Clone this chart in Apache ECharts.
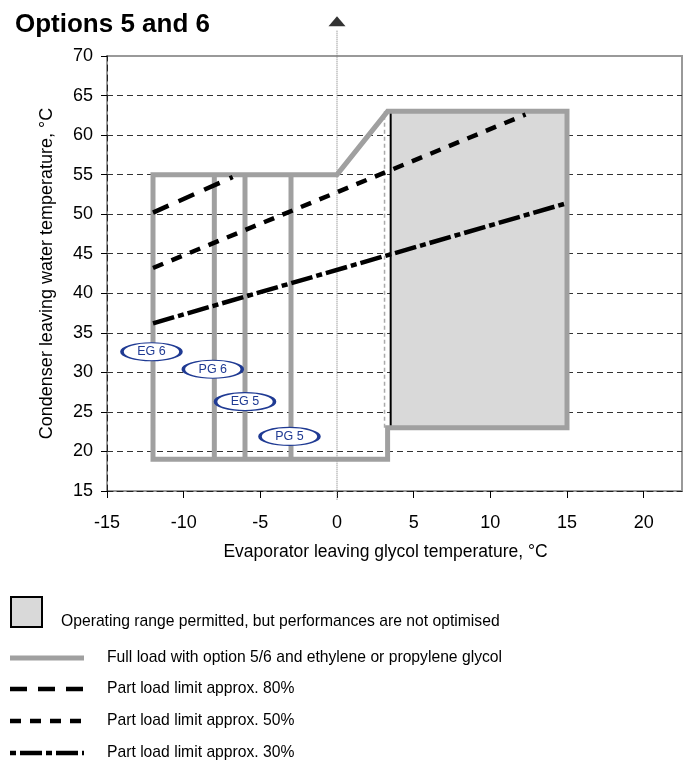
<!DOCTYPE html>
<html>
<head>
<meta charset="utf-8">
<script src="https://cdn.jsdelivr.net/npm/echarts@6/dist/echarts.min.js"></script>
<style>
  * { margin: 0; padding: 0; }
  body { background: #fff; }
  #chart { width: 699px; height: 762px; }
</style>
</head>
<body>
<div id="chart"></div>
<script>
// x ticks / axis
const xTicks = [-15, -10, -5, 0, 5, 10, 15, 20];

// full load envelope (option 5/6 with glycol)
const fullLoadOutline = [[-12, 19], [-12, 55], [0, 55], [3.3, 63], [15, 63], [15, 23], [3.3, 23], [3.3, 19], [-12, 19]];
const glycolLimitsX = [-8, -6, -3];
const glycolLimitsY = [19, 55];

// zone where operation is permitted but not optimised
const shadedZone = [[3.5, 23], [3.5, 63], [15, 63], [15, 23]];
const shadedEdge = [[3.5, 23], [3.5, 63]];
const stepGuide = [[3.1, 23], [3.1, 63]];

// part load limits
const limit80 = [[-12, 50.2], [-6.8, 54.7]];
const limit50 = [[-12, 43.2], [12.3, 62.6]];
const limit30 = [[-12, 36.2], [15, 51.4]];

// dotted zero line with arrow
const zeroLine = [[0, 13.9], [0, 73.2]];
const zeroArrow = [[0, 74.4]];

const tagNames = ["EG 6", "PG 6", "EG 5", "PG 5"];
const tagPos = [[-12.1, 32.6], [-8.1, 30.4], [-6, 26.3], [-3.1, 21.9]];

const legendLabels = [
  "Operating range permitted, but performances are not optimised",
  "Full load with option 5/6 and ethylene or propylene glycol",
  "Part load limit approx. 80%",
  "Part load limit approx. 50%",
  "Part load limit approx. 30%"
];

const GREY = "#a0a0a0";
const SHADE = "#d9d9d9";
const BLUE = "#1f3a93";
const FONT = "Liberation Sans, Arial, sans-serif";

const dash80 = [17, 11];
const dash50 = [11, 9];
const dash30 = [22, 4, 6, 4];

// outline plus vertical glycol limits, separated by gaps
const fullLoadData = fullLoadOutline.slice();
glycolLimitsX.forEach(function (x) {
  fullLoadData.push("-");
  fullLoadData.push([x, glycolLimitsY[0]]);
  fullLoadData.push([x, glycolLimitsY[1]]);
});

const ellipse = "path://M0,9 A29,9 0 1,1 58,9 A29,9 0 1,1 0,9 Z";

const chart = echarts.init(document.getElementById("chart"), null, { renderer: "canvas" });

function legendLine(y, dash, color, width, offset) {
  return {
    type: "line",
    shape: { x1: 10, y1: y, x2: 84, y2: y },
    style: { stroke: color, lineWidth: width, lineDash: dash, lineDashOffset: offset || 0 }
  };
}
function legendText(x, y, text) {
  return {
    type: "text",
    x: x, y: y,
    style: { text: text, fill: "#000", font: "15.7px " + FONT, textVerticalAlign: "middle" }
  };
}

const option = {
  animation: false,
  backgroundColor: "#fff",
  textStyle: { fontFamily: FONT },
  title: {
    text: "Options 5 and 6",
    left: 10,
    top: 7,
    textStyle: { fontSize: 26, fontWeight: "bold", color: "#000", fontFamily: FONT }
  },
  grid: {
    left: 107, right: 17, top: 56, bottom: 271,
    show: true, borderColor: "#999", borderWidth: 2
  },
  xAxis: {
    type: "value",
    min: -15, max: 22.5, interval: 5,
    name: "Evaporator leaving glycol temperature, °C",
    nameLocation: "middle",
    nameGap: 52,
    nameTextStyle: { fontSize: 17.5, color: "#000", padding: [0, 18, 0, 0] },
    axisLine: { show: true, onZero: false, lineStyle: { color: "#222", type: [6, 4], width: 1 } },
    axisTick: { show: true, length: 7, lineStyle: { color: "#000" }, customValues: xTicks },
    axisLabel: { fontSize: 18, color: "#000", margin: 23, customValues: xTicks },
    splitLine: { show: false }
  },
  yAxis: {
    type: "value",
    min: 15, max: 70, interval: 5,
    name: "Condenser leaving water temperature, °C",
    nameLocation: "middle",
    nameGap: 51,
    nameTextStyle: { fontSize: 18, color: "#000" },
    axisLine: { show: true, onZero: false, lineStyle: { color: "#222", type: [6, 4], width: 1 } },
    axisTick: { show: true, length: 6, lineStyle: { color: "#000" } },
    axisLabel: { fontSize: 18, color: "#000", margin: 14 },
    splitLine: { show: true, showMaxLine: false, lineStyle: { color: "#333", type: [6, 4], width: 1 } }
  },
  series: [
    {
      name: "zero",
      type: "line",
      data: zeroLine,
      clip: false,
      symbol: "none",
      silent: true,
      lineStyle: { color: "#777", width: 1, type: [1, 1] },
      z: 1
    },
    {
      name: "arrow",
      type: "scatter",
      data: zeroArrow,
      clip: false,
      symbol: "triangle",
      symbolSize: [17, 10],
      itemStyle: { color: "#000" },
      silent: true
    },
    {
      name: "shade",
      type: "custom",
      data: shadedZone,
      renderItem: function (params, api) {
        if (params.dataIndex !== 0) return;
        const pts = shadedZone.map(function (p) { return api.coord(p); });
        return { type: "polygon", shape: { points: pts }, style: { fill: SHADE } };
      },
      z: 2
    },
    {
      name: "step guide",
      type: "line",
      data: stepGuide,
      symbol: "none",
      lineStyle: { color: "#aaa", width: 1.5, type: [4, 3] },
      z: 3
    },
    {
      name: "shade edge",
      type: "line",
      data: shadedEdge,
      symbol: "none",
      lineStyle: { color: "#000", width: 2 },
      z: 3
    },
    {
      name: "Full load",
      type: "line",
      data: fullLoadData,
      connectNulls: false,
      symbol: "none",
      lineStyle: { color: GREY, width: 5, join: "miter", cap: "square" },
      z: 4
    },
    {
      name: "80%",
      type: "line",
      data: limit80,
      symbol: "none",
      lineStyle: { color: "#000", width: 4.5, type: dash80 },
      z: 5
    },
    {
      name: "50%",
      type: "line",
      data: limit50,
      symbol: "none",
      lineStyle: { color: "#000", width: 4.5, type: dash50 },
      z: 5
    },
    {
      name: "30%",
      type: "line",
      data: limit30,
      symbol: "none",
      lineStyle: { color: "#000", width: 4.5, type: dash30 },
      z: 5
    },
    {
      name: "tags",
      type: "scatter",
      data: tagNames.map(function (n, i) { return { name: n, value: tagPos[i] }; }),
      symbol: ellipse,
      symbolSize: [59, 18],
      itemStyle: { color: "#fff", borderColor: BLUE, borderWidth: 2, opacity: 1 },
      label: { show: true, position: "inside", formatter: "{b}", color: BLUE, fontSize: 12.5 },
      z: 6
    }
  ],
  graphic: [
    {
      type: "rect",
      shape: { x: 11, y: 597, width: 31, height: 30 },
      style: { fill: SHADE, stroke: "#000", lineWidth: 2 }
    },
    legendText(61, 622, legendLabels[0]),
    legendLine(658, null, GREY, 5),
    legendText(107, 658, legendLabels[1]),
    legendLine(689, dash80, "#000", 4.5),
    legendText(107, 689, legendLabels[2]),
    legendLine(721, dash50, "#000", 4.5),
    legendText(107, 721, legendLabels[3]),
    legendLine(753, dash30, "#000", 4.5, 26),
    legendText(107, 753, legendLabels[4])
  ]
};

chart.setOption(option);
window.addEventListener("resize", chart.resize);
</script>
</body>
</html>
